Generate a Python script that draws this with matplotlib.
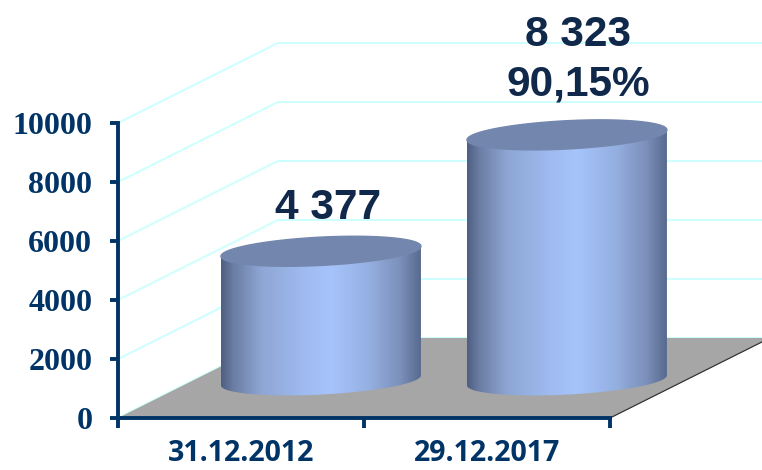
import numpy as np
import matplotlib
matplotlib.use("Agg")
import matplotlib.pyplot as plt
from matplotlib.colors import LinearSegmentedColormap
from matplotlib.patches import Polygon

# values
categories = ["31.12.2012", "29.12.2017"]
values = [4377, 8323]
value_labels = ["4 377", "8 323\n90,15%"]
y_ticks = [0, 2000, 4000, 6000, 8000, 10000]

W, H = 762, 470
NAVY = "#003366"

# depth of the fake 3d box, in data units
depth_x = 0.65
depth_y = 2712
x_right = 2.65
half_w = 0.4065
minor = 480
tilt = 170
label_offsets = [(5, 17), (8, 22)]

fig = plt.figure(figsize=(W / 100, H / 100), dpi=100)
ax = fig.add_axes([118 / W, (H - 418) / H, 492 / W, 295 / H])

# back wall lines
for v in y_ticks:
    ax.plot([0, depth_x, x_right], [v, v + depth_y, v + depth_y],
            color="#ccffff", lw=1.4, clip_on=False, zorder=1)

# floor
ax.add_patch(Polygon([(0, 0), (2, 0), (2 + depth_x, depth_y), (depth_x, depth_y)],
                     facecolor="#a6a6a6", edgecolor="none", clip_on=False, zorder=2))
ax.plot([2, 2 + depth_x], [0, depth_y], color="#333333", lw=0.9, clip_on=False, zorder=2)

cmap = LinearSegmentedColormap.from_list("cyl", [
    (0.0, "#4f5f82"), (0.06, "#6a7da3"), (0.2, "#8ea6d4"), (0.42, "#9fbbf0"),
    (0.55, "#a6c4fc"), (0.75, "#94aedf"), (0.9, "#7b8fb9"), (1.0, "#586a8f")])
grad = np.linspace(0, 1, 256).reshape(1, -1)
t = np.linspace(0, np.pi, 80)

for i, (val, lab) in enumerate(zip(values, value_labels)):
    cx = i + 0.5 + depth_x / 2
    base = depth_y * 0.47
    top = base + val
    # outline of the body: near half of the top rim, then near half of the bottom rim
    xs = cx + half_w * np.cos(t)
    rim = tilt * np.cos(t) - minor * np.sin(t)
    body = np.r_[np.c_[xs, top + rim], np.c_[xs[::-1], base + rim[::-1]]]
    im = ax.imshow(grad, cmap=cmap, extent=[cx - half_w, cx + half_w, base - 1000, top + 1000],
                   aspect="auto", zorder=3 + i)
    im.set_clip_path(Polygon(body, transform=ax.transData))
    im.set_clip_box(fig.bbox)
    # top cap
    t2 = np.linspace(0, 2 * np.pi, 160)
    ax.fill(cx + half_w * np.cos(t2), top + minor * np.sin(t2) + tilt * np.cos(t2),
            color="#7386ae", clip_on=False, zorder=3 + i)
    ax.annotate(lab, (cx, top), xytext=label_offsets[i], textcoords="offset points",
                ha="center", va="bottom", fontsize=30.5, fontweight="bold",
                family="Liberation Sans", color="#10284a", linespacing=1.3,
                annotation_clip=False, zorder=8)

ax.set_xlim(0, 2)
ax.set_ylim(0, 10000)
ax.patch.set_alpha(0)

for s in ["top", "right"]:
    ax.spines[s].set_visible(False)
for s in ["left", "bottom"]:
    ax.spines[s].set_color(NAVY)
    ax.spines[s].set_linewidth(2.8)
    ax.spines[s].set_zorder(9)

ax.set_yticks(y_ticks)
ax.set_yticklabels([str(v) for v in y_ticks], family="Liberation Serif",
                   fontweight="bold", fontsize=23, color=NAVY)
ax.tick_params(axis="y", length=6, width=2.8, color=NAVY, pad=12.5)

ax.set_xticks([0, 1, 2])
ax.set_xticklabels([])
ax.set_xticks([0.5, 1.5], minor=True)
ax.set_xticklabels(categories, minor=True, family="Open Sans", fontweight="bold",
                   fontsize=20.5, color=NAVY)
ax.tick_params(axis="x", which="major", length=7, width=2.8, color=NAVY)
ax.tick_params(axis="x", which="minor", length=0, pad=15)

fig.savefig("out.png", dpi=100)
